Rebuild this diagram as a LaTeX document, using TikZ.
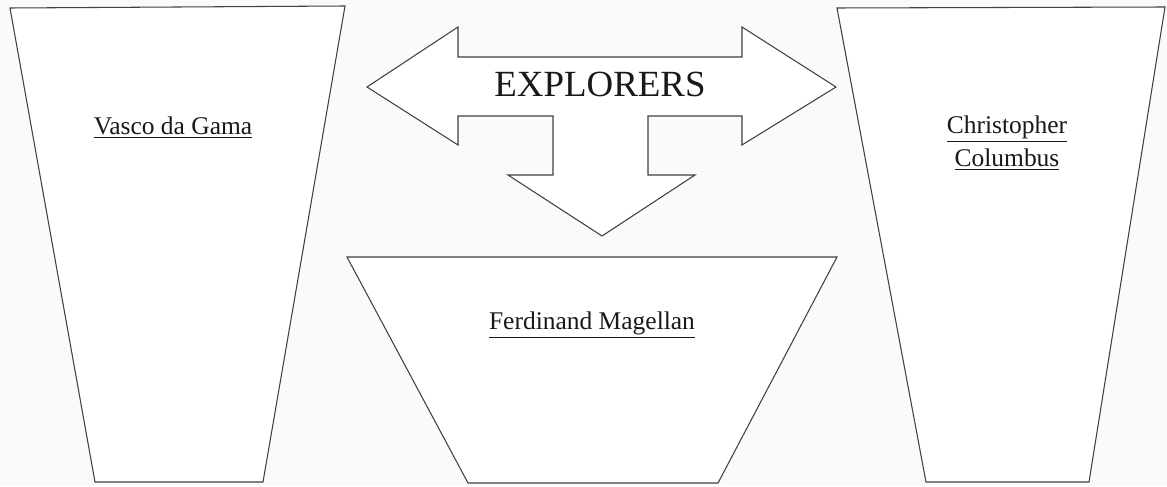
\documentclass[tikz,border=0pt]{standalone}
\usepackage{fontspec}
\setmainfont{Liberation Serif}
\usepackage{tikz}
\usetikzlibrary{positioning}

\tikzset{
  outline/.style={draw=black!75, line width=0.6pt, fill=white, line join=miter},
  name label/.style={align=center, font=\fontsize{14.5}{16.5}\selectfont, text=black!90},
}

\begin{document}
\begin{tikzpicture}
\useasboundingbox[fill=black!2] (0,0) rectangle (23.34,9.72);

% the three cups
\draw[outline] (0.2,9.56) -- (6.9,9.6) -- (5.26,0.08) -- (1.9,0.08) -- cycle;
\draw[outline] (6.94,4.58) -- (16.74,4.58) -- (14.36,0.06) -- (9.36,0.06) -- cycle;
\draw[outline] (16.74,9.56) -- (23.3,9.58) -- (21.78,0.08) -- (18.52,0.08) -- cycle;

% three-way arrow
\draw[outline] (7.34,7.98) -- (9.16,9.18) -- (9.16,8.58) -- (14.84,8.58) -- (14.84,9.18)
 -- (16.72,7.98) -- (14.84,6.82) -- (14.84,7.4) -- (12.96,7.4) -- (12.96,6.22)
 -- (13.9,6.22) -- (12.04,5.0) -- (10.16,6.22) -- (11.06,6.22) -- (11.06,7.4)
 -- (9.16,7.4) -- (9.16,6.82) -- cycle;

\node[font=\fontsize{21}{24}\selectfont, text=black!90] (title) at (12.0,8.04) {EXPLORERS};

\node[name label] (gama) at (3.46,7.16) {\underline{Vasco da Gama}};
\node[name label] (magellan) at (11.84,3.22) {\underline{Ferdinand Magellan}};
\node[name label] (columbus) at (20.14,6.86) {\underline{Christopher}\\[2pt] \underline{Columbus}};
\end{tikzpicture}
\end{document}
